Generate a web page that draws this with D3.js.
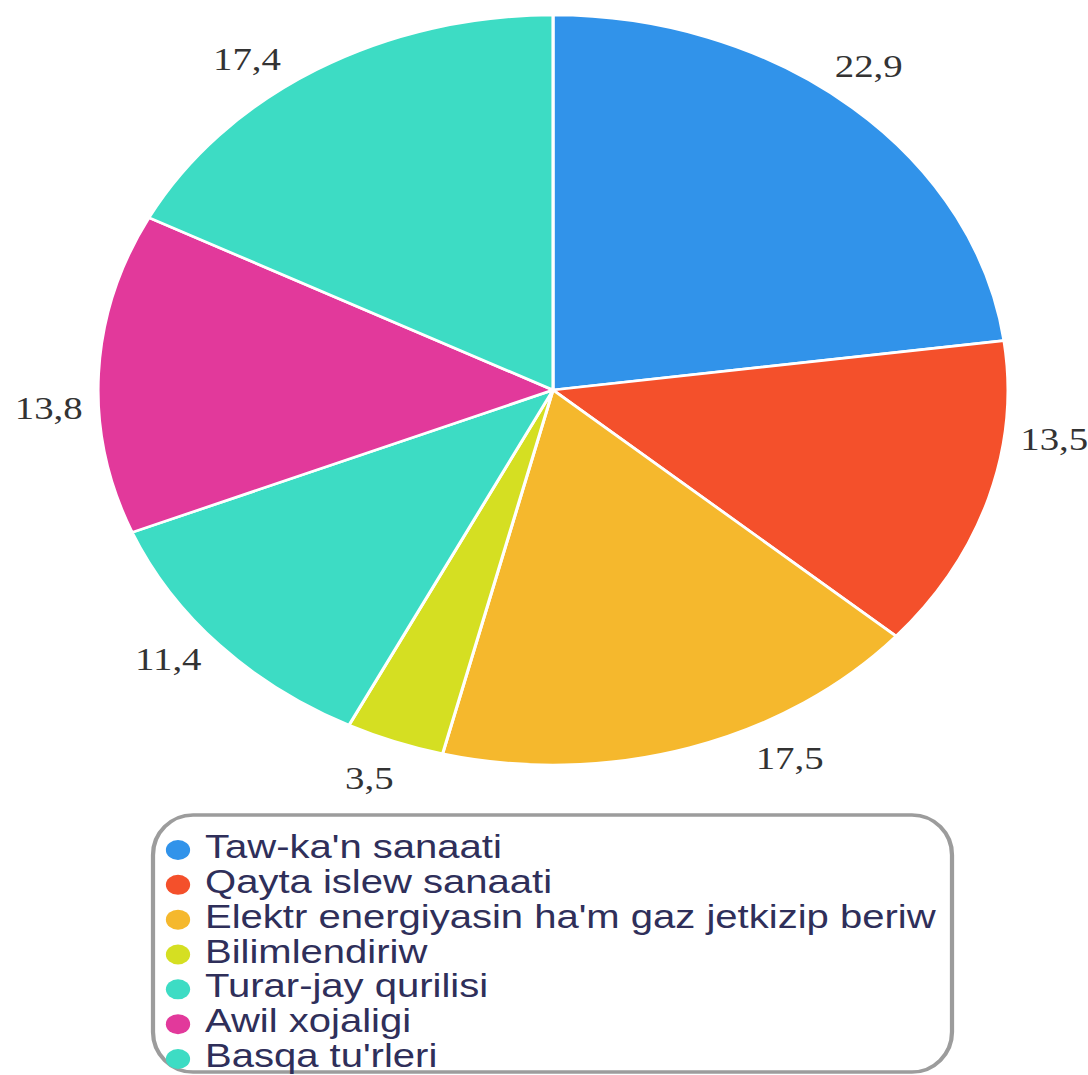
<!DOCTYPE html>
<html>
<head>
<meta charset="utf-8">
<script src="https://cdn.jsdelivr.net/npm/d3@7"></script>
<style>
  html, body { margin: 0; padding: 0; background: #ffffff; }
  svg { display: block; }
</style>
</head>
<body>
<svg id="chart" width="1088" height="1075"></svg>
<script>
// ---- data ----
const categories = [
  "Taw-ka'n sanaati",
  "Qayta islew sanaati",
  "Elektr energiyasin ha'm gaz jetkizip beriw",
  "Bilimlendiriw",
  "Turar-jay qurilisi",
  "Awil xojaligi",
  "Basqa tu'rleri"
];
const values = [22.9, 13.5, 17.5, 3.5, 11.4, 13.8, 17.4];
const valueLabels = ["22,9", "13,5", "17,5", "3,5", "11,4", "13,8", "17,4"];
const colors = ["#3193ea", "#f4502b", "#f5b82d", "#d5df22", "#3ddcc4", "#e2399b", "#3ddcc4"];

// ---- layout (label placement tweaks, degrees) ----
const labelAngleShift = [-2.5, -10, -10.5, 1, 2.5, -5, -6];

const W = 1088, H = 1075;
const sx = 455 / 375;            // horizontal stretch of the picture
const cx = 553 / sx, cy = 390, r = 375;

const svg = d3.select("#chart");
const g = svg.append("g").attr("transform", `scale(${sx},1)`);

const pie = d3.pie().sort(null).value(d => d)
  .startAngle(0).endAngle(2 * Math.PI);
const arcs = pie(values);
const arc = d3.arc().innerRadius(0).outerRadius(r);

const pieG = g.append("g").attr("transform", `translate(${cx},${cy})`);
pieG.selectAll("path.slice")
  .data(arcs)
  .join("path")
  .attr("class", "slice")
  .attr("d", arc)
  .attr("fill", (d, i) => colors[i])
  .attr("stroke", "#ffffff")
  .attr("stroke-width", 2.6)
  .attr("stroke-linejoin", "round");

const labelR = r + 41;
pieG.selectAll("text.vlabel")
  .data(arcs)
  .join("text")
  .attr("class", "vlabel")
  .attr("x", (d, i) => {
    const a = (d.startAngle + d.endAngle) / 2 + labelAngleShift[i] * Math.PI / 180;
    return labelR * Math.sin(a);
  })
  .attr("y", (d, i) => {
    const a = (d.startAngle + d.endAngle) / 2 + labelAngleShift[i] * Math.PI / 180;
    return -labelR * Math.cos(a);
  })
  .attr("dy", "0.35em")
  .attr("text-anchor", "middle")
  .attr("font-family", "'Liberation Serif', 'DejaVu Serif', serif")
  .attr("font-size", 32)
  .attr("fill", "#333333")
  .text((d, i) => valueLabels[i]);

// ---- legend ----
const legX = 153 / sx, legY = 815, legW = (952 - 153) / sx, legH = 257;
const legend = g.append("g");
legend.append("rect")
  .attr("x", legX).attr("y", legY)
  .attr("width", legW).attr("height", legH)
  .attr("rx", 33).attr("ry", 40)
  .attr("fill", "#ffffff")
  .attr("stroke", "#9c9c9c")
  .attr("stroke-width", 3.5);

const rowY = d3.scaleLinear().domain([0, categories.length - 1]).range([858, 1067]);
const items = legend.selectAll("g.item")
  .data(categories)
  .join("g")
  .attr("class", "item")
  .attr("transform", (d, i) => `translate(0,${rowY(i)})`);

items.append("circle")
  .attr("cx", 178 / sx)
  .attr("cy", -8)
  .attr("r", 10)
  .attr("fill", (d, i) => colors[i]);

items.append("text")
  .attr("x", 205 / sx)
  .attr("y", 0)
  .attr("font-family", "'Liberation Sans', Arial, sans-serif")
  .attr("font-size", 33)
  .attr("fill", "#2f2f5a")
  .text(d => d);
</script>
</body>
</html>
